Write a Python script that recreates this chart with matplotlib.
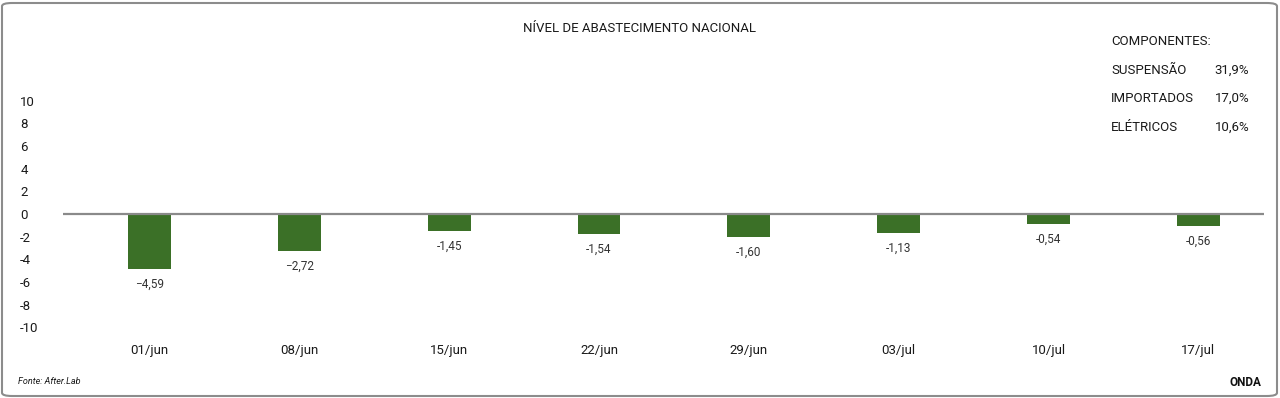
import matplotlib
matplotlib.use("Agg")
import matplotlib.pyplot as plt
from matplotlib.patches import FancyBboxPatch

# data
weeks = ["01/jun", "08/jun", "15/jun", "22/jun", "29/jun", "03/jul", "10/jul", "17/jul"]
bar_values = [-4.85, -3.29, -1.53, -1.80, -2.03, -1.71, -0.85, -1.06]
bar_labels = ["\u22124,59", "\u22122,72", "-1,45", "-1,54", "-1,60", "-1,13", "-0,54", "-0,56"]
y_ticks = [10, 8, 6, 4, 2, 0, -2, -4, -6, -8, -10]
components = ["SUSPENSÃO", "IMPORTADOS", "ELÉTRICOS"]
component_shares = ["31,9%", "17,0%", "10,6%"]

plt.rcParams["font.family"] = ["Roboto", "DejaVu Sans"]
TEXT = "#1a1a1a"
GREEN = "#3b7027"

W, H = 1280, 398
fig = plt.figure(figsize=(W / 100, H / 100), dpi=100)

# rounded frame around the whole card
frame = FancyBboxPatch((2 / W, 2 / H), 1 - 5 / W, 1 - 5 / H,
                       boxstyle="round,pad=0,rounding_size=0.008",
                       transform=fig.transFigure, fill=False,
                       edgecolor="#8c8c8c", linewidth=1.5)
fig.patches.append(frame)

# axes placed so that 10 and -10 fall where the reference has them
left, right = 63.3 / W, 1264 / W
bottom, top = (H - 327.3) / H, (H - 100.7) / H
ax = fig.add_axes([left, bottom, right - left, top - bottom])

x = list(range(len(weeks)))
ax.bar(x, bar_values, width=0.285, color=GREEN, zorder=2)
ax.axhline(0, color="#8a8a8a", linewidth=1.6, zorder=3)

for xi, v, lab in zip(x, bar_values, bar_labels):
    ax.annotate(lab, (xi, v), textcoords="offset points", xytext=(0, -11),
                ha="center", va="center", fontsize=8.5, color="#333333")

ax.set_xlim(-0.575, 7.438)
ax.set_ylim(-10, 10)
ax.set_yticks(y_ticks)
ax.set_yticklabels([str(t) for t in y_ticks])
ax.set_xticks(x)
ax.set_xticklabels(weeks)
ax.tick_params(axis="y", length=0, pad=31, labelsize=9.5, labelcolor=TEXT)
ax.tick_params(axis="x", length=0, pad=12, labelsize=9.5, labelcolor=TEXT)
for t in ax.get_yticklabels():
    t.set_horizontalalignment("left")
for s in ax.spines.values():
    s.set_visible(False)
ax.patch.set_alpha(0)

# title
fig.text(639.7 / W, 1 - 28 / H, "NÍVEL DE ABASTECIMENTO NACIONAL",
         ha="center", va="center", fontsize=9.5, color=TEXT)

# components panel
fig.text(1111 / W, 1 - 41.7 / H, "COMPONENTES:", ha="left", va="center",
         fontsize=9.5, color=TEXT)
for i, (name, share) in enumerate(zip(components, component_shares)):
    yy = 1 - (70 + 28.7 * i) / H
    fig.text(1111 / W, yy, name, ha="left", va="center", fontsize=9.5, color=TEXT)
    fig.text(1249.3 / W, yy, share, ha="right", va="center", fontsize=9.5, color=TEXT)

# footer
fig.text(18 / W, 1 - 382 / H, "Fonte: After.Lab", ha="left", va="center",
         fontsize=6.5, style="italic", color=TEXT)
fig.text(1261 / W, 1 - 382 / H, "ONDA", ha="right", va="center",
         fontsize=8.5, fontweight="bold", color="#111111")

fig.savefig("out.png", dpi=100)
